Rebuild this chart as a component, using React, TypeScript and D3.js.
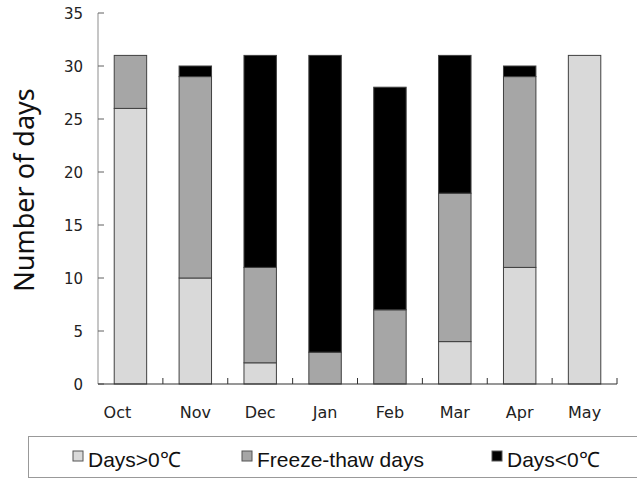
import React from "react";
import * as d3 from "d3";

const months = ["Oct", "Nov", "Dec", "Jan", "Feb", "Mar", "Apr", "May"];
const daysAbove0 = [26, 10, 2, 0, 0, 4, 11, 31];
const freezeThaw = [5, 19, 9, 3, 7, 14, 18, 0];
const daysBelow0 = [0, 1, 20, 28, 21, 13, 1, 0];
const yTicks = [0, 5, 10, 15, 20, 25, 30, 35];
const seriesNames = ["Days>0℃", "Freeze-thaw days", "Days<0℃"];
const seriesKeys = ["above", "ft", "below"];
const seriesColors = ["#d9d9d9", "#a6a6a6", "#000000"];

const W = 637;
const H = 478;
const left = 98;
const right = 617;
const top = 13;
const bottom = 384;

export default function App() {
  const table = months.map((m, i) => ({
    month: m,
    above: daysAbove0[i],
    ft: freezeThaw[i],
    below: daysBelow0[i],
  }));
  const stack = d3.stack<any>().keys(seriesKeys)(table);
  const x = d3.scaleBand().domain(months).range([left, right]).paddingInner(0.5).paddingOuter(0.25);
  const xb = d3.scaleBand().domain(months).range([left, right]);
  const y = d3.scaleLinear().domain([0, 35]).range([bottom, top]);
  const font = "'Liberation Sans', Arial, sans-serif";
  const tickFont = "'DejaVu Sans', sans-serif";

  const legendX = [73, 242, 492];

  return (
    <svg width={W} height={H} style={{ position: "absolute", left: 0, top: 0, background: "#fff" }}>
      {/* bars */}
      {stack.map((s, si) =>
        s.map((d, i) =>
          d[1] - d[0] > 0 ? (
            <rect
              key={si + "-" + i}
              x={x(months[i])!}
              y={y(d[1])}
              width={x.bandwidth()}
              height={y(d[0]) - y(d[1])}
              fill={seriesColors[si]}
              stroke="#404040"
              strokeWidth={1}
            />
          ) : null
        )
      )}
      {/* y axis */}
      <line x1={left} x2={left} y1={top} y2={bottom} stroke="#a0a0a0" strokeWidth={1.2} />
      {yTicks.map((t) => (
        <g key={t}>
          <line x1={left} x2={left + 6} y1={y(t)} y2={y(t)} stroke="#606060" strokeWidth={1} />
          <text x={83} y={y(t) + 5.5} textAnchor="end" fontSize={15} fontFamily={tickFont} fill="#222">
            {t}
          </text>
        </g>
      ))}
      {/* x axis */}
      <line x1={left} x2={right} y1={bottom} y2={bottom} stroke="#303030" strokeWidth={1.2} />
      {months.map((m) => (
        <line
          key={"t" + m}
          x1={xb(m)! + xb.bandwidth()}
          x2={xb(m)! + xb.bandwidth()}
          y1={bottom}
          y2={bottom - 6}
          stroke="#303030"
          strokeWidth={1}
        />
      ))}
      {months.map((m, i) => (
        <text
          key={"l" + m}
          x={xb(m)! + xb.bandwidth() / 2 + (i === 0 ? -13 : 0)}
          y={418}
          textAnchor="middle"
          fontSize={16}
          fontFamily={tickFont}
          fill="#222"
        >
          {m}
        </text>
      ))}
      {/* y title */}
      <text
        transform={`translate(34, 190) rotate(-90)`}
        textAnchor="middle"
        fontSize={27}
        fontFamily="'Noto Sans', sans-serif"
        fill="#111"
      >
        Number of days
      </text>
      {/* legend */}
      <rect x={28.5} y={436.5} width={620} height={41} fill="none" stroke="#999" strokeWidth={1} />
      {seriesNames.map((n, i) => (
        <g key={n}>
          <rect x={legendX[i]} y={451} width={10} height={10} fill={seriesColors[i]} stroke="#555" strokeWidth={1} />
          <text x={legendX[i] + 15} y={467} fontSize={21} fontFamily={font} fill="#111">
            {n}
          </text>
        </g>
      ))}
    </svg>
  );
}
